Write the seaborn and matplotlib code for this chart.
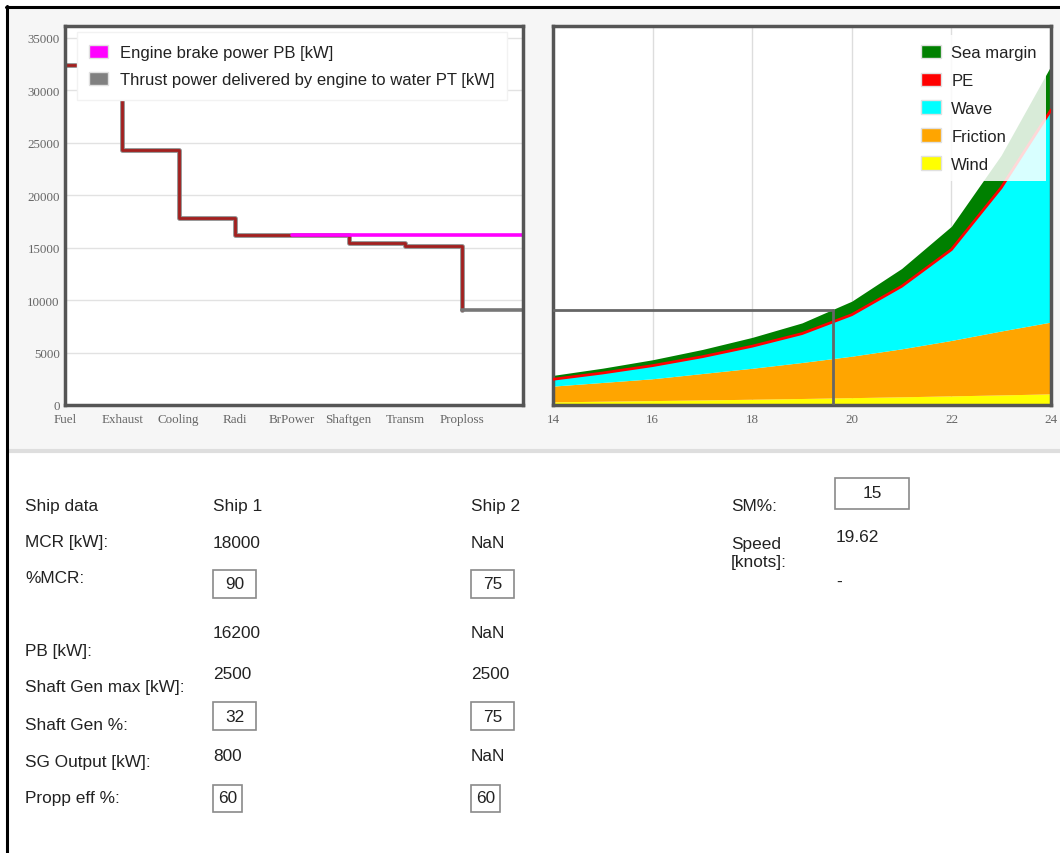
import numpy as np
import pandas as pd
import matplotlib
matplotlib.use("Agg")
import matplotlib.pyplot as plt
from matplotlib.patches import Patch, Rectangle
from matplotlib.lines import Line2D
import seaborn as sns

# Energy flow through the ship (left chart)
stages = ["Fuel", "Exhaust", "Cooling", "Radi", "BrPower", "Shaftgen", "Transm", "Proploss"]
stage_power = [32400, 24300, 17850, 16200, 16200, 15400, 15100, 9060]
pb_kw = 16200
pt_kw = 9060

# Power demand vs speed (right chart)
speed = [14, 15, 16, 17, 18, 19, 20, 21, 22, 23, 24]
wind = [300, 360, 420, 480, 550, 620, 700, 780, 870, 960, 1060]
friction = [1500, 1790, 2080, 2520, 2950, 3430, 3950, 4570, 5280, 6090, 6840]
wave = [650, 900, 1250, 1600, 2100, 2750, 3950, 5950, 8650, 13650, 20200]
sea_margin = [370, 460, 560, 690, 840, 1020, 1290, 1700, 2220, 3100, 4220]
speed_at_pt = 19.62

# Ship data table
row_labels = ["MCR [kW]:", "%MCR:", "PB [kW]:", "Shaft Gen max [kW]:",
              "Shaft Gen %:", "SG Output [kW]:", "Propp eff %:"]
ship1 = ["18000", "90", "16200", "2500", "32", "800", "60"]
ship2 = ["NaN", "75", "NaN", "2500", "75", "NaN", "60"]
sm_pct = "15"
speed_txt = "19.62"

W, H = 1060, 854
sns.set_theme(style="white")
plt.rcParams["font.family"] = ["Liberation Sans", "DejaVu Sans"]
SERIF = "Liberation Serif"

fig = plt.figure(figsize=(W / 100, H / 100), dpi=100)
fig.patch.set_facecolor("white")


def fx(x):
    return x / W


def fy(y):
    return 1 - y / H


def rect(x0, y0, x1, y1, **kw):
    fig.patches.append(Rectangle((fx(x0), fy(y1)), fx(x1) - fx(x0), fy(y0) - fy(y1),
                                 transform=fig.transFigure, **kw))


def hline(x0, x1, y, **kw):
    fig.lines.append(Line2D([fx(x0), fx(x1)], [fy(y), fy(y)], transform=fig.transFigure, **kw))


# page background and frame
rect(8, 9, W, 451, facecolor="#f6f6f6", edgecolor="none", zorder=-10)
hline(8, W, 452, color="#dedede", lw=3, zorder=-5)
hline(6, W, 8, color="black", lw=2.2)
fig.lines.append(Line2D([fx(7), fx(7)], [fy(7), 0], transform=fig.transFigure, color="black", lw=2.2))

YMAX = 36100
x_end = 8.08

# ---- left chart
ax1 = fig.add_axes([fx(65.4), fy(406), fx(523) - fx(65.4), fy(27) - fy(406)])
ax1.set_facecolor("white")
xs = np.arange(len(stages))
sns.lineplot(x=xs, y=stage_power, drawstyle="steps-post", color="#8a8a8a", lw=3.4, ax=ax1)
sns.lineplot(x=xs, y=stage_power, drawstyle="steps-post", color="#a3201f", lw=2.0, ax=ax1)
sns.lineplot(x=[stages.index("BrPower"), x_end], y=[pb_kw, pb_kw], color="#ff00ff", lw=2.6, ax=ax1)
sns.lineplot(x=[stages.index("Proploss"), x_end], y=[pt_kw, pt_kw], color="#777777", lw=2.6, ax=ax1)
ax1.set_xlim(0, x_end)
ax1.set_ylim(0, YMAX)
ax1.set_xticks(xs)
ax1.set_xticklabels(stages)
ax1.set_yticks(range(0, 35001, 5000))
ax1.yaxis.grid(True, color="#e2e2e2", lw=1)
ax1.set_axisbelow(True)
leg1 = ax1.legend(handles=[Patch(facecolor="#ff00ff", edgecolor="#e0e0e0"),
                           Patch(facecolor="#808080", edgecolor="#e0e0e0")],
                  labels=["Engine brake power PB [kW]",
                          "Thrust power delivered by engine to water PT [kW]"],
                  loc="upper left", bbox_to_anchor=(0.025, 0.984), borderaxespad=0,
                  fontsize=12, frameon=True, fancybox=False, framealpha=1,
                  facecolor="white", edgecolor="#f2f2f2", handlelength=1.1,
                  handleheight=0.85, handletextpad=0.72, labelspacing=0.72, borderpad=0.75)
for t in leg1.get_texts():
    t.set_color("#222222")

# ---- right chart
ax2 = fig.add_axes([fx(553), fy(406), fx(1051) - fx(553), fy(27) - fy(406)])
ax2.set_facecolor("white")
for s in [16, 18, 20, 22]:
    ax2.axvline(s, color="#dddddd", lw=1, zorder=0)
ax2.stackplot(speed, wind, friction, wave, sea_margin,
              colors=["#ffff00", "#ffa500", "#00ffff", "#008000"], lw=0, zorder=2)
pe = np.array(wind) + np.array(friction) + np.array(wave)
sns.lineplot(x=speed, y=pe, color="#ff0000", lw=2, ax=ax2, zorder=3)
sns.lineplot(x=[speed[0], speed_at_pt], y=[pt_kw, pt_kw], color="#666666", lw=2, ax=ax2, zorder=4)
sns.lineplot(x=[speed_at_pt, speed_at_pt], y=[0, pt_kw], estimator=None, sort=False,
             color="#666666", lw=2, ax=ax2, zorder=4)
ax2.set_xlim(speed[0], speed[-1])
ax2.set_ylim(0, YMAX)
ax2.set_xticks(range(14, 25, 2))
ax2.set_yticks([])
leg2 = ax2.legend(handles=[Patch(facecolor=c, edgecolor="#e0e0e0") for c in
                           ["#008000", "#ff0000", "#00ffff", "#ffa500", "#ffff00"]],
                  labels=["Sea margin", "PE", "Wave", "Friction", "Wind"],
                  loc="upper right", bbox_to_anchor=(0.99, 0.975), borderaxespad=0,
                  fontsize=12, frameon=True, fancybox=False, framealpha=0.85,
                  facecolor="white", edgecolor="none", handlelength=1.25,
                  handleheight=0.85, handletextpad=0.6, labelspacing=0.75, borderpad=0.55)
leg2.set_zorder(10)
for t in leg2.get_texts():
    t.set_color("#222222")

for ax in (ax1, ax2):
    for sp in ax.spines.values():
        sp.set_visible(True)
        sp.set_color("#555555")
        sp.set_linewidth(2.5)
    ax.tick_params(axis="both", length=0, labelsize=9.4, labelcolor="#666666")
    ax.tick_params(axis="x", pad=6)
    ax.tick_params(axis="y", pad=4)
    for lab in ax.get_xticklabels() + ax.get_yticklabels():
        lab.set_fontfamily(SERIF)
    ax.set_xlabel("")
    ax.set_ylabel("")

# ---- ship data table
FS = 12.4
TXT = dict(fontsize=FS, color="#222222", va="center", ha="left")
row_y = [543, 579, 652, 688, 725, 763, 799]
val_y = [543, 585, 634, 675, 717, 757, 799]
is_input = [False, True, False, False, True, False, True]
box_w = [0, 43, 0, 0, 43, 0, 29]
box_h = [0, 28, 0, 0, 28, 0, 27]

fig.text(fx(25), fy(507), "Ship data", **TXT)
fig.text(fx(213), fy(507), "Ship 1", **TXT)
fig.text(fx(471), fy(507), "Ship 2", **TXT)
for lab, ly, vy, v1, v2, inp, bw, bh in zip(row_labels, row_y, val_y, ship1, ship2,
                                            is_input, box_w, box_h):
    fig.text(fx(25), fy(ly), lab, **TXT)
    for x0, v in ((213, v1), (471, v2)):
        if inp:
            rect(x0, vy - bh / 2, x0 + bw, vy + bh / 2, facecolor="white",
                 edgecolor="#8a8a8a", lw=1.2)
            fig.text(fx(x0 + bw / 2), fy(vy), v, fontsize=FS, color="#222222",
                     va="center", ha="center")
        else:
            fig.text(fx(x0), fy(vy), v, **TXT)

fig.text(fx(731), fy(507), "SM%:", **TXT)
rect(835, 479, 909, 510, facecolor="white", edgecolor="#8a8a8a", lw=1.2)
fig.text(fx(872), fy(494), sm_pct, fontsize=FS, color="#222222", va="center", ha="center")
fig.text(fx(731), fy(544), "Speed", **TXT)
fig.text(fx(731), fy(563), "[knots]:", **TXT)
fig.text(fx(836), fy(538), speed_txt, **TXT)
fig.text(fx(836), fy(582), "-", **TXT)

fig.savefig("out.png", dpi=100)
